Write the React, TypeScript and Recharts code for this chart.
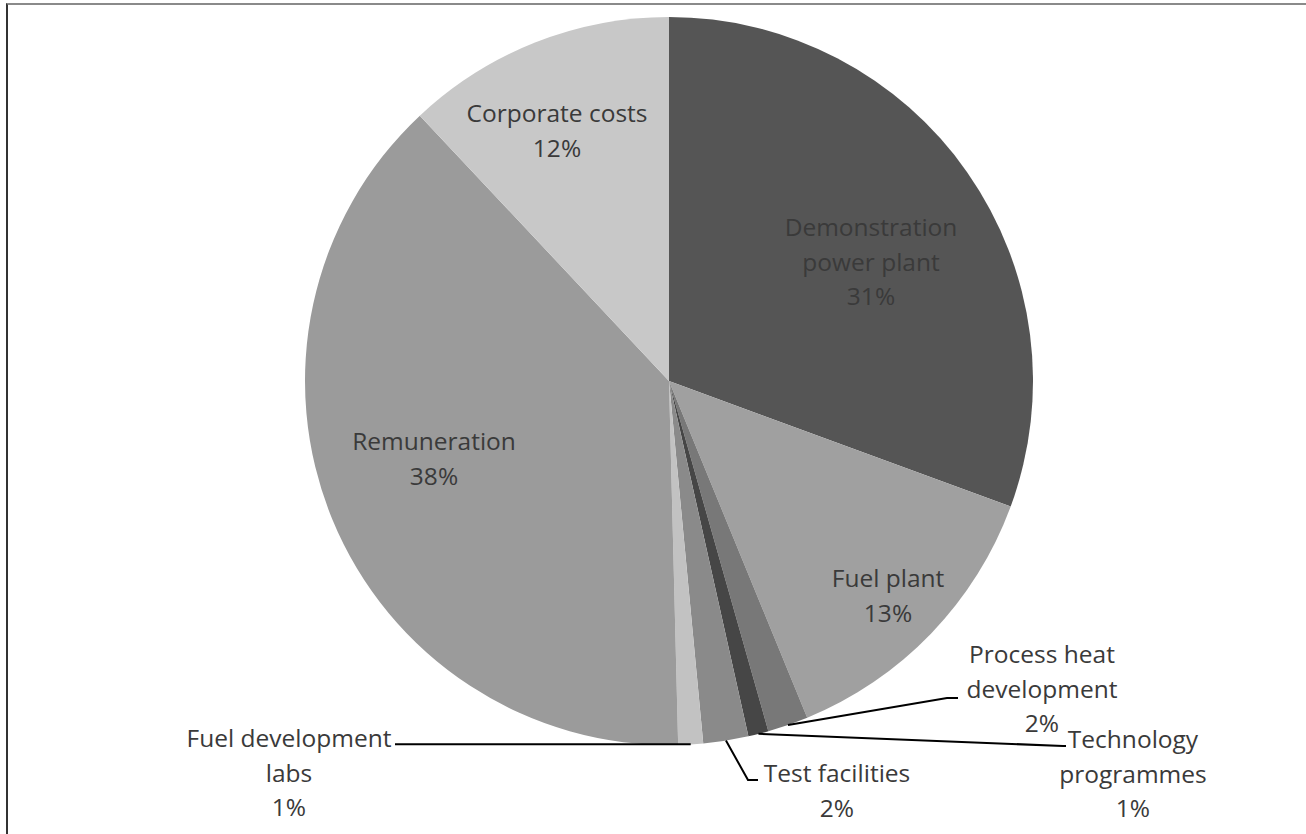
import React from "react";
import { PieChart, Pie, Cell } from "recharts";

const categories = [
  "Demonstration power plant",
  "Fuel plant",
  "Process heat development",
  "Technology programmes",
  "Test facilities",
  "Fuel development labs",
  "Remuneration",
  "Corporate costs",
];
const shares = [30.6, 13.2, 1.8, 0.9, 2.0, 1.1, 38.4, 12.0];
const labelLines = [
  ["Demonstration", "power plant"],
  ["Fuel plant"],
  ["Process heat", "development"],
  ["Technology", "programmes"],
  ["Test facilities"],
  ["Fuel development", "labs"],
  ["Remuneration"],
  ["Corporate costs"],
];
const colors = ["#555555", "#a0a0a0", "#787878", "#464646", "#8a8a8a", "#c2c2c2", "#9b9b9b", "#c8c8c8"];

const data = categories.map((name, i) => ({ name, value: shares[i] }));

// label layout: offsets from pie centre (px)
type Cfg = { dx: number; dy: number; leader?: [number, number][]; horiz?: number };
const labelCfg: Cfg[] = [
  { dx: 202, dy: -145 },
  { dx: 219, dy: 206 },
  { dx: 373, dy: 282, leader: [[278, 317], [289, 317]] },
  { dx: 464, dy: 367, leader: [[394, 365], [397, 365]] },
  { dx: 168, dy: 401, leader: [[79, 399], [89, 399]] },
  { dx: -380, dy: 366, horiz: -274 },
  { dx: -235, dy: 69 },
  { dx: -112, dy: -259 },
];

const RAD = Math.PI / 180;
const LINE_H = 34.5;

const renderLabel = (props: any) => {
  const { cx, cy, midAngle, outerRadius, percent, index } = props;
  const cfg = labelCfg[index];
  const lines = [...labelLines[index], `${Math.round(percent * 100)}%`];
  const ax = cx + outerRadius * Math.cos(-midAngle * RAD);
  const ay = cy + outerRadius * Math.sin(-midAngle * RAD);
  let path: string | null = null;
  if (cfg.leader) {
    path = `M${ax},${ay}` + cfg.leader.map(([x, y]) => ` L${cx + x},${cy + y}`).join("");
  } else if (cfg.horiz !== undefined) {
    path = `M${ax},${ay} L${cx + cfg.horiz},${ay}`;
  }
  return (
    <g key={`lbl-${index}`}>
      {path && <path d={path} stroke="#000" strokeWidth={2} fill="none" />}
      <text
        x={cx + cfg.dx}
        y={cy + cfg.dy}
        textAnchor="middle"
        fill="#3a3a3a"
        style={{
          fontFamily: "'Open Sans', 'Noto Sans', sans-serif",
          fontSize: 24.5,
          fontVariantLigatures: "none",
        }}
      >
        {lines.map((l, i) => (
          <tspan key={i} x={cx + cfg.dx} y={cy + cfg.dy + i * LINE_H}>
            {l}
          </tspan>
        ))}
      </text>
    </g>
  );
};

export default function App() {
  return (
    <div
      style={{
        position: "absolute",
        left: 0,
        top: 0,
        width: 1306,
        height: 834,
        overflow: "hidden",
        background: "#fff",
      }}
    >
      <div
        style={{
          position: "absolute",
          left: 6,
          top: 3,
          width: 1400,
          height: 900,
          borderTop: "2px solid #8a8a8a",
          borderLeft: "2px solid #333333",
        }}
      />
      <div style={{ position: "absolute", left: 0, top: 0 }}>
        <PieChart width={1306} height={834} margin={{ top: 0, right: 0, bottom: 0, left: 0 }}>
          <Pie
            data={data}
            dataKey="value"
            nameKey="name"
            cx={669}
            cy={381}
            outerRadius={364}
            startAngle={90}
            endAngle={-270}
            stroke="none"
            isAnimationActive={false}
            label={renderLabel}
            labelLine={false}
          >
            {data.map((d, i) => (
              <Cell key={d.name} fill={colors[i]} />
            ))}
          </Pie>
        </PieChart>
      </div>
    </div>
  );
}
